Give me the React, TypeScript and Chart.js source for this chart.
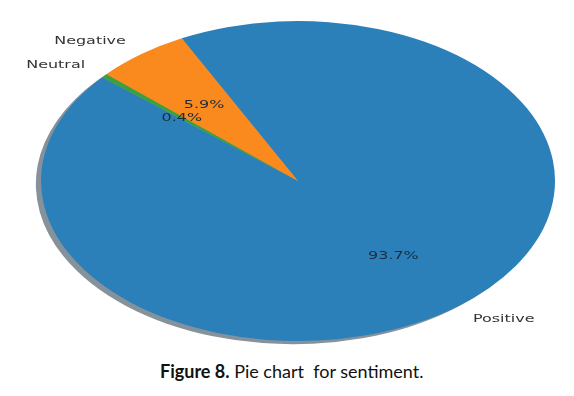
import React, { useEffect, useRef } from "react";
import { Chart, registerables } from "chart.js";

Chart.register(...registerables);

const labels = ["Positive", "Neutral", "Negative"];
const values = [93.7, 0.4, 5.9];
const pctLabels = ["93.7%", "0.4%", "5.9%"];
const colors = ["#2b80ba", "#3aa23a", "#fb8a1e"];
const shadowColors = ["rgba(13,38,56,0.5)", "rgba(18,51,18,0.5)", "rgba(75,41,9,0.5)"];

const SX = 257 / 160;
const TEXT_SX = 1.45;

const ellipsePlugin = {
  id: "ellipsePlugin",
  beforeDatasetsDraw(chart: any) {
    const meta = chart.getDatasetMeta(0);
    const a0 = meta.data[0];
    const cx = a0.x, cy = a0.y, r = a0.outerRadius;
    const ctx = chart.ctx;
    ctx.save();
    ctx.translate(cx, cy);
    ctx.scale(SX, 1);
    meta.data.forEach((arc: any, i: number) => {
      const dx = -0.02 * r, dy = 0.02 * r;
      ctx.beginPath();
      ctx.moveTo(dx, dy);
      ctx.arc(dx, dy, r, arc.startAngle, arc.endAngle);
      ctx.closePath();
      ctx.fillStyle = shadowColors[i];
      ctx.fill();
    });
    ctx.translate(-cx, -cy);
  },
  afterDatasetsDraw(chart: any) {
    const ctx = chart.ctx;
    ctx.restore();
    const meta = chart.getDatasetMeta(0);
    const a0 = meta.data[0];
    const cx = a0.x, cy = a0.y, r = a0.outerRadius;
    ctx.save();
    ctx.font = "11px 'DejaVu Sans'";
    ctx.textBaseline = "middle";
    meta.data.forEach((arc: any, i: number) => {
      const mid = (arc.startAngle + arc.endAngle) / 2;
      const c = Math.cos(mid), s = Math.sin(mid);
      const lx = cx + c * r * 1.1 * SX;
      const ly = cy + s * r * 1.1;
      ctx.save();
      ctx.translate(lx, ly);
      ctx.scale(TEXT_SX, 1);
      ctx.textAlign = c >= 0 ? "left" : "right";
      ctx.fillStyle = "#333333";
      ctx.fillText(labels[i], 0, 0);
      ctx.restore();
      const px = cx + c * r * 0.6 * SX;
      const py = cy + s * r * 0.6;
      ctx.save();
      ctx.translate(px, py);
      ctx.scale(TEXT_SX, 1);
      ctx.textAlign = "center";
      ctx.fillStyle = "#1e2b3a";
      ctx.fillText(pctLabels[i], 0, 0);
      ctx.restore();
    });
    ctx.restore();
  },
};

export default function App() {
  const ref = useRef<HTMLCanvasElement>(null);
  useEffect(() => {
    if (!ref.current) return;
    const chart = new Chart(ref.current, {
      type: "pie",
      data: {
        labels,
        datasets: [
          {
            data: values,
            backgroundColor: colors,
            borderWidth: 0,
          },
        ],
      },
      options: {
        responsive: false,
        animation: false,
        rotation: -26.9,
        layout: { padding: { left: 138, right: 116, top: 21, bottom: 9 } },
        plugins: {
          legend: { display: false },
          tooltip: { enabled: false },
        },
      },
      plugins: [ellipsePlugin],
    });
    return () => chart.destroy();
  }, []);
  return (
    <div style={{ position: "fixed", left: 0, top: 0, width: 574, height: 396, background: "#fff" }}>
      <canvas ref={ref} width={574} height={350} style={{ position: "absolute", left: 0, top: 0, width: 574, height: 350 }} />
      <div
        style={{
          position: "absolute",
          left: 160,
          top: 360,
          fontFamily: "Lato, 'Open Sans', sans-serif",
          fontSize: 18,
          color: "#111",
          whiteSpace: "pre",
        }}
      >
        <b>Figure 8.</b> Pie chart  for sentiment.
      </div>
    </div>
  );
}
